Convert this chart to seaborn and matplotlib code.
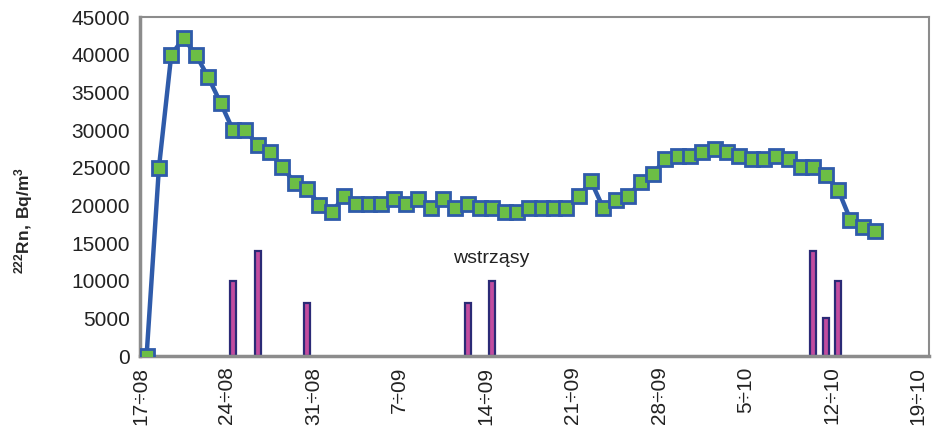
import matplotlib
matplotlib.use("Agg")
import matplotlib.pyplot as plt
import seaborn as sns
import numpy as np
import pandas as pd

# daily 222Rn concentration, days counted from 17.08
rn_values = [0, 25000, 40000, 42200, 40000, 37000, 33600, 30000, 30000, 28000,
             27100, 25100, 23000, 22200, 20100, 19100, 21200, 20200, 20200, 20200,
             20800, 20200, 20800, 19600, 20800, 19700, 20200, 19600, 19600, 19100,
             19100, 19700, 19700, 19700, 19700, 21200, 23200, 19600, 20700, 21200,
             23100, 24200, 26100, 26600, 26600, 27100, 27500, 27100, 26600, 26100,
             26100, 26600, 26100, 25100, 25100, 24100, 22100, 18100, 17200, 16600]
rn_days = list(range(len(rn_values)))

# tremors (wstrząsy)
shock_days = [7, 9, 13, 26, 28, 54, 55, 56]
shock_values = [10000, 14000, 7000, 7000, 10000, 14000, 5000, 10000]

tick_days = [0, 7, 14, 21, 28, 35, 42, 49, 56, 63]
tick_labels = ["17÷08", "24÷08", "31÷08", "7÷09", "14÷09", "21÷09",
               "28÷09", "5÷10", "12÷10", "19÷10"]

sns.set_style("white")
plt.rcParams["font.family"] = ["Liberation Sans", "DejaVu Sans"]
plt.rcParams["mathtext.fontset"] = "custom"
plt.rcParams["mathtext.rm"] = "Liberation Sans"
plt.rcParams["mathtext.bf"] = "Liberation Sans:bold"

df = pd.DataFrame({"day": np.array(rn_days) + 0.5, "rn": rn_values})

fig = plt.figure(figsize=(9.36, 4.28), dpi=100)
ax = fig.add_axes([0.150, 0.168, 0.843, 0.792])

ax.bar(np.array(shock_days) + 0.5, shock_values, width=0.5,
       color="#C24C9F", edgecolor="#2B2A76", linewidth=1.6, zorder=2)

sns.lineplot(data=df, x="day", y="rn", ax=ax, color="#2F5BAA", linewidth=3.2,
             marker="s", markersize=10, markerfacecolor="#6CBE45",
             markeredgecolor="#2F5BAA", markeredgewidth=2, zorder=3)

ax.text(28.4, 13000, "wstrząsy", ha="center", va="center", fontsize=14, color="#222222")

ax.set_xlim(0, 63.9)
ax.set_ylim(0, 45000)
ax.set_yticks(range(0, 45001, 5000))
ax.set_xticks(tick_days)
ax.set_xticklabels(tick_labels, rotation=90)
ax.tick_params(axis="both", direction="inout", length=11, width=1,
               color="#333333", labelsize=15, labelcolor="#222222")
ax.tick_params(axis="y", pad=2)
ax.tick_params(axis="x", pad=2)

for side in ["left", "bottom", "top", "right"]:
    ax.spines[side].set_color("#8C8C8C")
    ax.spines[side].set_linewidth(1.5)
ax.spines["left"].set_linewidth(2.5)
ax.spines["bottom"].set_linewidth(2.5)

ax.set_xlabel("")
ax.set_ylabel("$\\mathbf{^{222}Rn,\\,Bq/m^{3}}$", fontsize=12.5)
ax.yaxis.set_label_coords(-0.133, 0.40)

fig.savefig("out.png", dpi=100)
